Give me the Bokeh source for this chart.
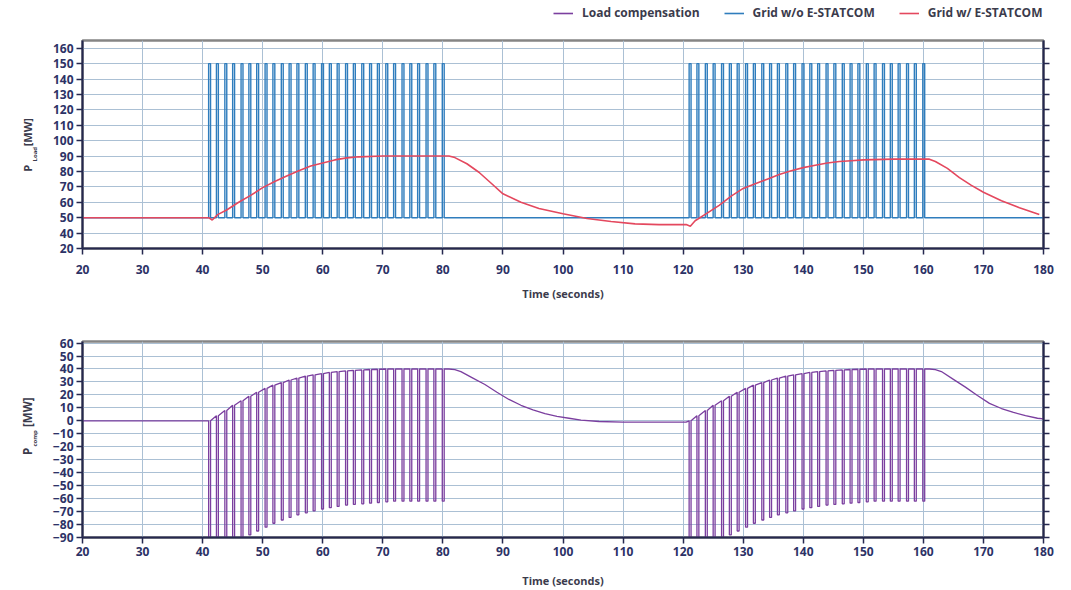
import math
from bokeh.plotting import figure
from bokeh.layouts import column, row
from bokeh.models import (Range1d, FixedTicker, LinearAxis, Legend, LegendItem)
from bokeh.core.properties import value
from bokeh.embed import file_html
from bokeh.resources import INLINE

# ---------------- data ----------------
x_ticks = [20, 30, 40, 50, 60, 70, 80, 90, 100, 110, 120, 130, 140, 150, 160, 170, 180]
top_y_ticks = [30, 40, 50, 60, 70, 80, 90, 100, 110, 120, 130, 140, 150, 160]
top_y_labels = ["20", "40", "50", "60", "70", "80", "90", "100", "110", "120", "130", "140", "150", "160"]
bot_y_ticks = [-90, -80, -70, -60, -50, -40, -30, -20, -10, 0, 10, 20, 30, 40, 50, 60]

# switching pulses (start times, s) of the load without E-STATCOM
pulses_1 = [41.0, 42.3, 43.7, 45.0, 46.4, 47.7, 49.0, 50.4, 51.7, 53.1, 54.4, 55.7, 57.1, 58.4, 59.8,
            61.1, 62.4, 63.8, 65.1, 66.5, 67.8, 69.1, 70.5, 71.8, 73.2, 74.5, 75.8, 77.2, 78.5, 79.9]
pulses_2 = [121.0, 122.3, 123.7, 125.0, 126.4, 127.7, 129.0, 130.4, 131.7, 133.1, 134.4, 135.7, 137.1, 138.4, 139.8,
            141.1, 142.4, 143.8, 145.1, 146.5, 147.8, 149.1, 150.5, 151.8, 153.2, 154.5, 155.8, 157.2, 158.5, 159.9]
pulse_width = 0.32
grid_wo_low = 50
grid_wo_high = 150
t_start, t_end = 20, 180

# grid with E-STATCOM
red_t = [20, 41.0, 41.6, 42.5, 44, 46, 48, 50, 52, 54, 56, 58, 60, 62, 64, 66, 70, 75, 81,
         82, 84, 86, 88, 90, 93, 96, 100, 104, 108, 112, 116, 120.5, 121.2,
         122, 124, 126, 128, 130, 132, 134, 136, 138, 140, 142, 144, 146, 148, 150, 155, 161,
         162, 164, 166, 168, 170, 173, 176, 179.3]
red_v = [50, 50, 48.5, 52, 55, 60, 64.5, 69.5, 73.5, 77, 80.5, 83.5, 85.5, 87.5, 88.8, 89.5, 90, 90, 90,
         89, 85, 79.5, 72.5, 65.5, 60, 56, 52.5, 49.5, 47.5, 46, 45.5, 45.5, 44.5,
         48, 53, 58, 64, 69, 72, 75, 78, 80.5, 82.5, 84, 85.5, 86.5, 87, 87.5, 88, 88,
         86.5, 82, 76, 71, 66.5, 61, 56.5, 52]

# load compensation: level between spikes (hi) and spike bottom (lo) for every pulse
comp_hi_1 = [0, 4, 8, 12, 15.5, 19, 22, 25, 27.5, 29.5, 31.5, 33, 34.5, 35.5, 36.5,
             37.3, 38, 38.5, 39, 39.3, 39.6, 39.8, 40, 40, 40, 40, 40, 40, 40, 40]
comp_lo_1 = [-100, -98, -96, -94, -92, -88, -85, -82, -79, -76.5, -74.5, -72.5, -71, -69.5, -68,
             -67, -66, -65, -64.5, -64, -63.5, -63, -62.5, -62, -62, -62, -62, -62, -62, -62]
comp_hi_2 = [0, 4, 8, 12, 15.5, 19, 22, 25, 27.5, 29.5, 31.5, 33, 34.5, 35.5, 36.5,
             37.3, 38, 38.5, 39, 39.3, 39.6, 39.8, 40, 40, 40, 40, 40, 40, 40, 40]
comp_lo_2 = [-100, -98, -96, -94, -92, -88, -85, -82, -79, -76.5, -74.5, -72.5, -71, -69.5, -68,
             -67, -66, -65, -64.5, -64, -63.5, -63, -62.5, -62, -62, -62, -62, -62, -62, -62]
comp_decay_1_t = [81, 82, 83, 85, 87, 89, 91, 93, 95, 97, 99, 101, 103, 106, 110, 115, 120.5]
comp_decay_1_v = [40, 39.5, 38, 33, 28, 22, 16.5, 12, 8.5, 5.5, 3.5, 2, 0.5, -0.5, -1, -1, -1]
comp_decay_2_t = [161, 162, 163, 165, 167, 169, 171, 173, 175, 177, 179, 180]
comp_decay_2_v = [40, 39.5, 38, 32, 26, 19.5, 13.5, 9.5, 6.5, 4, 2, 1.5]

legend_labels = ["Load compensation", "Grid w/o E-STATCOM", "Grid w/ E-STATCOM"]

# ---------------- styling ----------------
BLUE = "#2f7dbd"
RED = "#e4485e"
PURPLE = "#7b3f9f"
AXIS = "#25284f"
TICKTXT = "#2d3266"
TXT = "#3b3b4c"
GRID = "#abc0d4"
FONT = "Open Sans"
MAIN_W = 1020
LAB_W = 48


def build_blue():
    xs, ys = [t_start], [grid_wo_low]
    for t in pulses_1 + pulses_2:
        xs += [t, t, t + pulse_width, t + pulse_width]
        ys += [grid_wo_low, grid_wo_high, grid_wo_high, grid_wo_low]
    xs.append(t_end)
    ys.append(grid_wo_low)
    return xs, ys


def build_comp():
    xs, ys = [t_start], [0]
    for starts, his, los, dt, dv in ((pulses_1, comp_hi_1, comp_lo_1, comp_decay_1_t, comp_decay_1_v),
                                     (pulses_2, comp_hi_2, comp_lo_2, comp_decay_2_t, comp_decay_2_v)):
        for t, hi, lo in zip(starts, his, los):
            xs += [t, t, t + pulse_width, t + pulse_width]
            ys += [hi, lo, lo, hi]
        xs += dt
        ys += dv
    return xs, ys


def style(p, yticks, overrides=None, standoffs=(7, 8)):
    p.outline_line_color = "#858585"
    p.outline_line_width = 2.5
    p.xaxis.ticker = FixedTicker(ticks=x_ticks)
    p.yaxis.ticker = FixedTicker(ticks=yticks)
    p.xgrid.ticker = FixedTicker(ticks=x_ticks)
    p.ygrid.ticker = FixedTicker(ticks=yticks)
    for g in (p.xgrid, p.ygrid):
        g.grid_line_color = GRID
        g.grid_line_width = 1
    if overrides:
        p.yaxis.major_label_overrides = overrides
    for ax in (p.xaxis, p.yaxis):
        ax.axis_line_color = AXIS
        ax.axis_line_width = 2
        ax.major_tick_line_color = AXIS
        ax.major_tick_line_width = 1.5
        ax.major_tick_out = 6
        ax.major_tick_in = 0
        ax.minor_tick_line_color = None
        ax.major_label_text_font = FONT
        ax.major_label_text_font_style = "bold"
        ax.major_label_text_font_size = "12px"
        ax.major_label_text_color = TICKTXT
    p.yaxis.major_label_standoff = 3
    p.xaxis.major_label_standoff = standoffs[0]
    p.xaxis.axis_label = "Time (seconds)"
    p.xaxis.axis_label_text_font = FONT
    p.xaxis.axis_label_text_font_style = "bold"
    p.xaxis.axis_label_text_font_size = "11px"
    p.xaxis.axis_label_text_color = TXT
    p.xaxis.axis_label_standoff = standoffs[1]
    right = LinearAxis(ticker=FixedTicker(ticks=yticks),
                       major_label_overrides={t: "" for t in yticks})
    right.axis_line_color = AXIS
    right.axis_line_width = 2
    right.major_tick_line_color = AXIS
    right.major_tick_line_width = 1.5
    right.major_tick_out = 6
    right.major_tick_in = 0
    right.minor_tick_line_color = None
    right.major_label_text_font_size = "1px"
    p.add_layout(right, "right")


def blank(width, height, y_range=None, top=0, bottom=0):
    f = figure(width=width, height=height, output_backend="svg", toolbar_location=None,
               x_axis_location=None, y_axis_location=None,
               x_range=Range1d(0, width),
               y_range=y_range if y_range is not None else Range1d(height, 0),
               min_border_left=0, min_border_right=0,
               min_border_top=top, min_border_bottom=bottom, outline_line_color=None)
    f.grid.visible = False
    f.background_fill_color = None
    f.border_fill_color = None
    return f


def ylabel_fig(main_fig, height, top, bottom, sub, main_y, sub_y, unit_y, size="11px"):
    f = blank(LAB_W, height, y_range=main_fig.y_range, top=top, bottom=bottom)
    common = dict(angle=math.pi / 2, text_font=value(FONT), text_font_style="bold",
                  text_color=TXT, text_align="center", text_baseline="middle")
    f.text(x=[26.5], y=[main_y], text=["P"], text_font_size=size, **common)
    f.text(x=[34.5], y=[sub_y], text=[sub], text_font_size="6px", **common)
    f.text(x=[26.5], y=[unit_y], text=["[MW]"], text_font_size=size, **common)
    return f


# ---------------- legend strip ----------------
leg_fig = blank(LAB_W + MAIN_W, 24)
k1 = leg_fig.line(x=[-50, -40], y=[-50, -50], line_color=PURPLE, line_width=1.6)
k2 = leg_fig.line(x=[-50, -40], y=[-50, -50], line_color=BLUE, line_width=1.6)
k3 = leg_fig.line(x=[-50, -40], y=[-50, -50], line_color=RED, line_width=1.6)
legend = Legend(items=[LegendItem(label=legend_labels[0], renderers=[k1]),
                       LegendItem(label=legend_labels[1], renderers=[k2]),
                       LegendItem(label=legend_labels[2], renderers=[k3])],
                orientation="horizontal", location=(553, 3),
                background_fill_alpha=0, border_line_color=None,
                label_text_font=FONT, label_text_font_style="bold",
                label_text_font_size="12px", label_text_color=TXT,
                glyph_width=20, glyph_height=12, label_standoff=9, spacing=24,
                padding=0, margin=0)
leg_fig.add_layout(legend, "center")

# ---------------- top chart ----------------
p1 = figure(width=MAIN_W, height=280, output_backend="svg", toolbar_location=None,
            x_range=Range1d(t_start, t_end), y_range=Range1d(30, 165),
            min_border_left=34, min_border_right=25, min_border_top=16, min_border_bottom=56)
style(p1, top_y_ticks, overrides={t: l for t, l in zip(top_y_ticks, top_y_labels)}, standoffs=(10, 9))
bx, by = build_blue()
p1.line(bx, by, line_color=BLUE, line_width=1.4)
p1.line(red_t, red_v, line_color=RED, line_width=1.6)
lab1 = ylabel_fig(p1, 280, 16, 56, "Load", 82.1, 91.2, 105.5)

# ---------------- bottom chart ----------------
p2 = figure(width=MAIN_W, height=286, output_backend="svg", toolbar_location=None,
            x_range=Range1d(t_start, t_end), y_range=Range1d(-90, 61.2),
            min_border_left=34, min_border_right=25, min_border_top=37, min_border_bottom=53)
style(p2, bot_y_ticks, standoffs=(3, 14))
cx, cy = build_comp()
p2.line(cx, cy, line_color=PURPLE, line_width=1.3)
lab2 = ylabel_fig(p2, 286, 37, 53, "comp", -23.6, -13.5, 6.7, size="11.5px")

layout = column(leg_fig, row(lab1, p1, spacing=0), row(lab2, p2, spacing=0), spacing=0)
open("out.html", "w").write(file_html(layout, INLINE))
